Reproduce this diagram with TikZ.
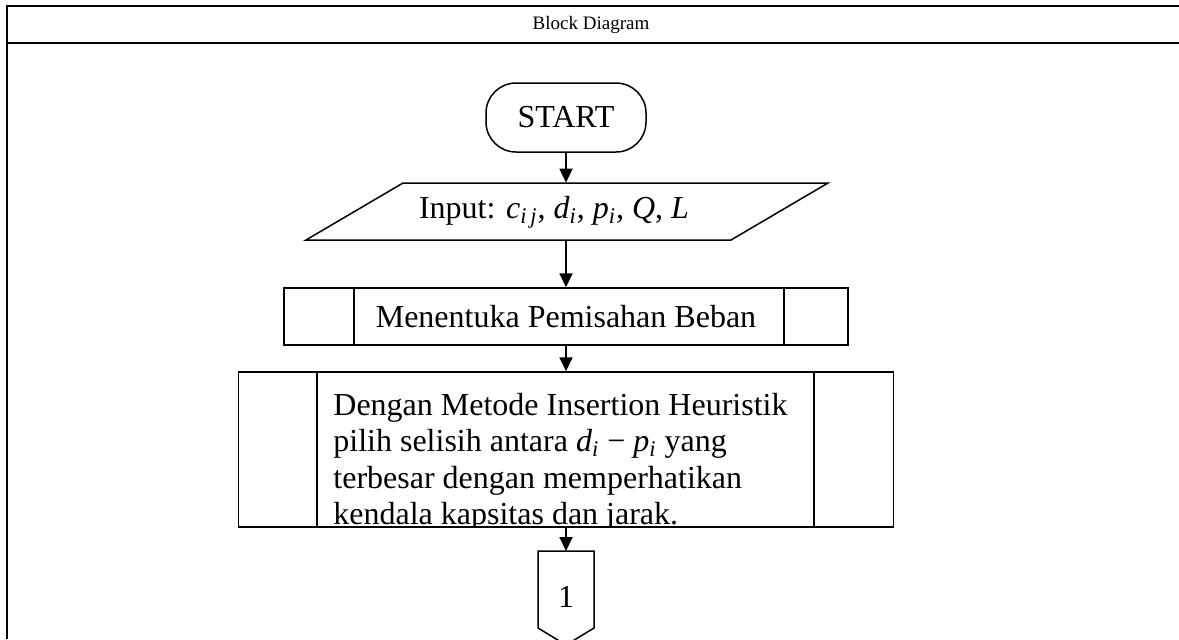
\documentclass[tikz,border=0pt]{standalone}
\usepackage{fontspec}
\setmainfont{Liberation Serif}
\usetikzlibrary{arrows.meta}
\newcommand{\mv}[2]{\textit{#1}\textsubscript{\textit{#2}}}
\begin{document}
\begin{tikzpicture}[x=0.5pt,y=-0.5pt,
  frame/.style={line width=1.25pt},
  shp/.style={line width=0.75pt},
  arr/.style={line width=0.9pt,-{Triangle[width=6.5pt,length=7pt]}},
  body/.style={font=\fontsize{16}{18.25}\selectfont},
  lbl/.style={inner sep=0pt, body}]
\useasboundingbox (0,0) rectangle (1179,639);
\fill[white] (0,0) rectangle (1179,639);
% table frame
\draw[frame] (1179,6) -- (7,6) -- (7,639);
\draw[frame] (7,43) -- (1179,43);
\node[font=\fontsize{9.5}{11}\selectfont, inner sep=0pt] (hdr) at (591,24.5) {Block Diagram};
% start
\node[shp, draw, rounded corners=15pt, minimum width=80pt, minimum height=34.5pt, inner sep=0pt, body] (start) at (566,117.5) {START};
% input
\node[minimum width=211.5pt, minimum height=28.5pt, inner sep=0pt] (input) at (566,211.5) {};
\draw[shp] (306,240) -- (403,183) -- (828,183) -- (731,240) -- cycle;
\node[lbl] (inputtxt) at (554,212) {Input: \mv{c}{i\,j}, \mv{d}{i}, \mv{p}{i}, \textit{Q}, \textit{L}};
% subprocess 1
\node[shp, draw, minimum width=282pt, minimum height=28.5pt, inner sep=0pt, body] (sub1) at (566,316.5) {Menentuka Pemisahan Beban};
\draw[shp] (354,288) -- (354,345) (784,288) -- (784,345);
% subprocess 2
\node[shp, draw, minimum width=327.5pt, minimum height=77.5pt, inner sep=0pt] (big) at (566,449.5) {};
\draw[shp] (317,372) -- (317,527) (814,372) -- (814,527);
\begin{scope}
\clip (317,372) rectangle (814,527);
\node[lbl, anchor=north west, align=left] (txt) at (333,392.5) {Dengan Metode Insertion Heuristik\\
pilih selisih antara \mv{d}{i} − \mv{p}{i} yang\\
terbesar dengan memperhatikan\\
kendala kapsitas dan jarak.};
\end{scope}
% off-page connector
\coordinate (conn) at (566,551);
\draw[shp] (538,551) -- (594,551) -- (594,628) -- (566,645) -- (538,628) -- cycle;
\node[lbl] (one) at (566,597) {1};
% connectors
\draw[arr] (start.south) -- (input.north);
\draw[arr] (input.south) -- (sub1.north);
\draw[arr] (sub1.south) -- (big.north);
\draw[arr] (big.south) -- (conn);
\end{tikzpicture}
\end{document}
